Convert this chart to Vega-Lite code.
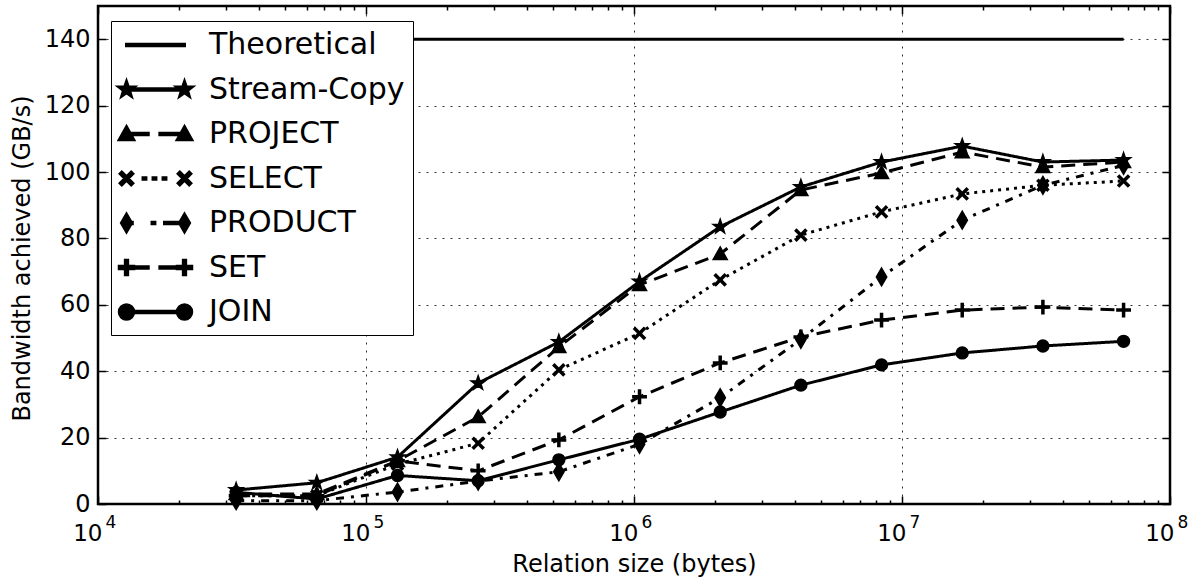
{
  "$schema": "https://vega.github.io/schema/vega-lite/v6.json",
  "width": 1072,
  "height": 498,
  "autosize": {"type": "none"},
  "padding": {"left": 98, "top": 6, "right": 20, "bottom": 73},
  "background": "white",
  "config": {
    "view": {"stroke": "black", "strokeWidth": 2.5},
    "font": "DejaVu Sans",
    "axis": {
      "labelColor": "black",
      "tickColor": "black",
      "titleColor": "black",
      "labelFont": "DejaVu Sans",
      "titleFont": "DejaVu Sans",
      "titleFontWeight": "normal",
      "tickWidth": 1.5,
      "labelFlush": false,
      "labelOverlap": false,
      "labelBound": false
    }
  },
  "data": {
    "values": [
      {"series": "Theoretical", "size": 32768, "bw": 140},
      {"series": "Theoretical", "size": 67108864, "bw": 140},
      {"series": "Stream-Copy", "size": 32768, "bw": 4.2},
      {"series": "Stream-Copy", "size": 65536, "bw": 6.4},
      {"series": "Stream-Copy", "size": 131072, "bw": 14.1},
      {"series": "Stream-Copy", "size": 262144, "bw": 36.4},
      {"series": "Stream-Copy", "size": 524288, "bw": 48.8},
      {"series": "Stream-Copy", "size": 1048576, "bw": 67},
      {"series": "Stream-Copy", "size": 2097152, "bw": 83.5},
      {"series": "Stream-Copy", "size": 4194304, "bw": 95.5},
      {"series": "Stream-Copy", "size": 8388608, "bw": 103},
      {"series": "Stream-Copy", "size": 16777216, "bw": 107.8},
      {"series": "Stream-Copy", "size": 33554432, "bw": 103},
      {"series": "Stream-Copy", "size": 67108864, "bw": 103.6},
      {"series": "PROJECT", "size": 32768, "bw": 3},
      {"series": "PROJECT", "size": 65536, "bw": 3},
      {"series": "PROJECT", "size": 131072, "bw": 13},
      {"series": "PROJECT", "size": 262144, "bw": 26.2},
      {"series": "PROJECT", "size": 524288, "bw": 47.3},
      {"series": "PROJECT", "size": 1048576, "bw": 66},
      {"series": "PROJECT", "size": 2097152, "bw": 75.3},
      {"series": "PROJECT", "size": 4194304, "bw": 94.6},
      {"series": "PROJECT", "size": 8388608, "bw": 99.7},
      {"series": "PROJECT", "size": 16777216, "bw": 106},
      {"series": "PROJECT", "size": 33554432, "bw": 101.5},
      {"series": "PROJECT", "size": 67108864, "bw": 103},
      {"series": "SELECT", "size": 32768, "bw": 2.5},
      {"series": "SELECT", "size": 65536, "bw": 2.5},
      {"series": "SELECT", "size": 131072, "bw": 12},
      {"series": "SELECT", "size": 262144, "bw": 18.3},
      {"series": "SELECT", "size": 524288, "bw": 40.4},
      {"series": "SELECT", "size": 1048576, "bw": 51.4},
      {"series": "SELECT", "size": 2097152, "bw": 67.5},
      {"series": "SELECT", "size": 4194304, "bw": 81},
      {"series": "SELECT", "size": 8388608, "bw": 88},
      {"series": "SELECT", "size": 16777216, "bw": 93.4},
      {"series": "SELECT", "size": 33554432, "bw": 96},
      {"series": "SELECT", "size": 67108864, "bw": 97.3},
      {"series": "PRODUCT", "size": 32768, "bw": 1},
      {"series": "PRODUCT", "size": 65536, "bw": 1},
      {"series": "PRODUCT", "size": 131072, "bw": 3.6},
      {"series": "PRODUCT", "size": 262144, "bw": 6.9},
      {"series": "PRODUCT", "size": 524288, "bw": 9.7},
      {"series": "PRODUCT", "size": 1048576, "bw": 18},
      {"series": "PRODUCT", "size": 2097152, "bw": 32},
      {"series": "PRODUCT", "size": 4194304, "bw": 49.6},
      {"series": "PRODUCT", "size": 8388608, "bw": 68.4},
      {"series": "PRODUCT", "size": 16777216, "bw": 85.5},
      {"series": "PRODUCT", "size": 33554432, "bw": 96},
      {"series": "PRODUCT", "size": 67108864, "bw": 102},
      {"series": "SET", "size": 32768, "bw": 2.5},
      {"series": "SET", "size": 65536, "bw": 2.5},
      {"series": "SET", "size": 131072, "bw": 13},
      {"series": "SET", "size": 262144, "bw": 10},
      {"series": "SET", "size": 524288, "bw": 19.3},
      {"series": "SET", "size": 1048576, "bw": 32.3},
      {"series": "SET", "size": 2097152, "bw": 42.5},
      {"series": "SET", "size": 4194304, "bw": 50.3},
      {"series": "SET", "size": 8388608, "bw": 55.4},
      {"series": "SET", "size": 16777216, "bw": 58.4},
      {"series": "SET", "size": 33554432, "bw": 59.3},
      {"series": "SET", "size": 67108864, "bw": 58.4},
      {"series": "JOIN", "size": 32768, "bw": 3.5},
      {"series": "JOIN", "size": 65536, "bw": 1.5},
      {"series": "JOIN", "size": 131072, "bw": 8.6},
      {"series": "JOIN", "size": 262144, "bw": 7},
      {"series": "JOIN", "size": 524288, "bw": 13.3},
      {"series": "JOIN", "size": 1048576, "bw": 19.5},
      {"series": "JOIN", "size": 2097152, "bw": 27.7},
      {"series": "JOIN", "size": 4194304, "bw": 35.8},
      {"series": "JOIN", "size": 8388608, "bw": 41.9},
      {"series": "JOIN", "size": 16777216, "bw": 45.5},
      {"series": "JOIN", "size": 33554432, "bw": 47.6},
      {"series": "JOIN", "size": 67108864, "bw": 49}
    ]
  },
  "layer": [
    {
      "transform": [{"filter": "datum.series === 'Theoretical'"}],
      "mark": {"type": "line", "color": "black", "strokeWidth": 3},
      "encoding": {
        "x": {
          "field": "size", "type": "quantitative",
          "scale": {"type": "log", "domain": [10000, 100000000], "nice": false},
          "axis": {
            "orient": "bottom",
            "values": [10000, 100000, 1000000, 10000000, 100000000],
            "labelExpr": "'10'",
            "labelAlign": "right",
            "labelOffset": 4,
            "labelBaseline": "alphabetic",
            "labelPadding": 44,
            "labelFontSize": 23,
            "tickSize": -8,
            "domain": false,
            "grid": true,
            "gridColor": "black",
            "gridDash": [2, 6],
            "gridWidth": 1,
            "gridOpacity": 0.8,
            "title": "Relation size (bytes)",
            "titleFontSize": 24,
            "titleY": 67,
            "titleBaseline": "alphabetic"
          }
        },
        "y": {
          "field": "bw", "type": "quantitative",
          "scale": {"domain": [0, 150], "nice": false, "zero": false},
          "axis": {
            "orient": "left",
            "values": [0, 20, 40, 60, 80, 100, 120, 140],
            "labelFontSize": 24,
            "labelPadding": 16,
            "tickSize": -8,
            "domain": false,
            "grid": true,
            "gridColor": "black",
            "gridDash": [2, 6],
            "gridWidth": 1,
            "gridOpacity": 0.8,
            "title": "Bandwidth achieved (GB/s)",
            "titleFontSize": 24,
            "titleAngle": -90,
            "titleX": -76,
            "titleY": 252,
            "titleAlign": "center",
            "titleBaseline": "middle"
          }
        },
        "opacity": {
          "field": "series", "type": "nominal",
          "scale": {
            "domain": ["Theoretical", "Stream-Copy", "PROJECT", "SELECT", "PRODUCT", "SET", "JOIN"],
            "range": [1, 1, 1, 1, 1, 1, 1]
          },
          "legend": {
            "title": null,
            "orient": "none",
            "legendX": 13,
            "legendY": 15,
            "fillColor": "white",
            "strokeColor": "black",
            "padding": 8,
            "cornerRadius": 0,
            "labelFont": "DejaVu Sans",
            "labelFontSize": 30,
            "labelColor": "black",
            "labelLimit": 400,
            "symbolSize": 841,
            "symbolOffset": 20.5,
            "labelOffset": 37.5,
            "rowPadding": 13.5,
            "symbolFillColor": "black",
            "symbolStrokeColor": "black",
            "symbolStrokeWidth": 3,
            "symbolOpacity": 1,
            "symbolType": {"expr": "datum.value === 'Stream-Copy' ? 'M-2,-0.05L2,-0.05L2,0.05L-2,0.05ZM-2,-0.55L-1.871,-0.178L-1.477,-0.17L-1.791,0.068L-1.677,0.445L-2,0.22L-2.323,0.445L-2.209,0.068L-2.523,-0.17L-2.129,-0.178ZM2,-0.55L2.129,-0.178L2.523,-0.17L2.209,0.068L2.323,0.445L2,0.22L1.677,0.445L1.791,0.068L1.477,-0.17L1.871,-0.178Z' : datum.value === 'PROJECT' ? 'M-2,-0.05L-0.5,-0.05L-0.5,0.05L-2,0.05ZM0.3,-0.05L2,-0.05L2,0.05L0.3,0.05ZM-2,-0.5L-1.5,0.4L-2.5,0.4ZM2,-0.5L2.5,0.4L1.5,0.4Z' : datum.value === 'SELECT' ? 'M-0.86,-0.05L-0.66,-0.05L-0.66,0.05L-0.86,0.05ZM-0.17,-0.05L0.03,-0.05L0.03,0.05L-0.17,0.05ZM0.52,-0.05L0.72,-0.05L0.72,0.05L0.52,0.05ZM-2.323,-0.437L-1.563,0.323L-1.677,0.437L-2.437,-0.323ZM-2.323,0.437L-2.437,0.323L-1.677,-0.437L-1.563,-0.323ZM1.677,-0.437L2.437,0.323L2.323,0.437L1.563,-0.323ZM1.677,0.437L1.563,0.323L2.323,-0.437L2.437,-0.323Z' : datum.value === 'PRODUCT' ? 'M-2,-0.05L-1.6,-0.05L-1.6,0.05L-2,0.05ZM-0.24,-0.05L-0.04,-0.05L-0.04,0.05L-0.24,0.05ZM0.62,-0.05L2,-0.05L2,0.05L0.62,0.05ZM-2,-0.6L-1.65,0L-2,0.6L-2.35,0ZM2,-0.6L2.35,0L2,0.6L1.65,0Z' : datum.value === 'SET' ? 'M-2,-0.05L-0.5,-0.05L-0.5,0.05L-2,0.05ZM0.3,-0.05L2,-0.05L2,0.05L0.3,0.05ZM-2.5,-0.08L-1.5,-0.08L-1.5,0.08L-2.5,0.08ZM-2.08,-0.5L-1.92,-0.5L-1.92,0.5L-2.08,0.5ZM1.5,-0.08L2.5,-0.08L2.5,0.08L1.5,0.08ZM1.92,-0.5L2.08,-0.5L2.08,0.5L1.92,0.5Z' : datum.value === 'JOIN' ? 'M-1.5,-0.05L1.5,-0.05L1.5,0.05L-1.5,0.05ZM-2.5,0A0.5,0.5 0 1,0 -1.5,0A0.5,0.5 0 1,0 -2.5,0ZM1.5,0A0.5,0.5 0 1,0 2.5,0A0.5,0.5 0 1,0 1.5,0Z' : 'M-2,-0.05L2,-0.05L2,0.05L-2,0.05Z'"}
          }
        }
      }
    },
    {
      "transform": [{"filter": "datum.series !== 'Theoretical'"}],
      "mark": {"type": "line", "color": "black", "strokeWidth": 3},
      "encoding": {
        "x": {
          "field": "size", "type": "quantitative",
          "axis": {
            "orient": "top",
            "values": [10000, 100000, 1000000, 10000000, 100000000],
            "labels": false,
            "tickSize": -8,
            "domain": false,
            "grid": false,
            "title": null
          }
        },
        "y": {
          "field": "bw", "type": "quantitative",
          "axis": {
            "orient": "right",
            "values": [0, 20, 40, 60, 80, 100, 120, 140],
            "labels": false,
            "tickSize": -8,
            "domain": false,
            "grid": false,
            "title": null
          }
        },
        "strokeDash": {
          "field": "series", "type": "nominal",
          "scale": {
            "domain": ["Stream-Copy", "PROJECT", "SELECT", "PRODUCT", "SET", "JOIN"],
            "range": [[1, 0], [14, 8], [3, 5], [8, 7, 3, 7], [14, 8], [1, 0]]
          },
          "legend": null
        }
      }
    },
    {
      "transform": [{"filter": "indexof(['Stream-Copy','PROJECT','PRODUCT','JOIN'], datum.series) >= 0"}],
      "mark": {"type": "point", "filled": true, "fill": "black", "stroke": "black", "strokeWidth": 1.5, "opacity": 1, "size": 220},
      "encoding": {
        "x": {
          "field": "size", "type": "quantitative",
          "axis": {
            "orient": "bottom",
            "values": [20000, 30000, 40000, 50000, 60000, 70000, 80000, 90000, 100000, 200000, 300000, 400000, 500000, 600000, 700000, 800000, 900000, 1000000, 2000000, 3000000, 4000000, 5000000, 6000000, 7000000, 8000000, 9000000, 10000000, 20000000, 30000000, 40000000, 50000000, 60000000, 70000000, 80000000, 90000000, 10000, 100000000],
            "labelExpr": "indexof([10000,100000,1000000,10000000,100000000], datum.value) >= 0 ? '' + round(log(datum.value)/LN10) : ''",
            "labelAlign": "left",
            "labelOffset": 7,
            "labelBaseline": "alphabetic",
            "labelPadding": 27,
            "labelFontSize": 17,
            "tickSize": -4,
            "tickOpacity": {"condition": {"test": "indexof([10000,100000,1000000,10000000,100000000], datum.value) >= 0", "value": 0}, "value": 1},
            "domain": false,
            "grid": false,
            "title": null
          }
        },
        "y": {"field": "bw", "type": "quantitative", "axis": null},
        "shape": {
          "field": "series", "type": "nominal",
          "scale": {
            "domain": ["Stream-Copy", "PROJECT", "SELECT", "PRODUCT", "SET", "JOIN"],
            "range": [
              "M0,-1L0.235,-0.324L0.951,-0.309L0.38,0.124L0.588,0.809L0,0.4L-0.588,0.809L-0.38,0.124L-0.951,-0.309L-0.235,-0.324Z",
              "M0,-0.95L0.95,0.75L-0.95,0.75Z",
              "M-0.75,-0.75L0.75,0.75M-0.75,0.75L0.75,-0.75",
              "M0,-1.2L0.7,0L0,1.2L-0.7,0Z",
              "M-1,0L1,0M0,-1L0,1",
              "M-0.8,0A0.8,0.8 0 1,0 0.8,0A0.8,0.8 0 1,0 -0.8,0Z"
            ]
          },
          "legend": null
        }
      }
    },
    {
      "transform": [{"filter": "indexof(['SELECT','SET'], datum.series) >= 0"}],
      "mark": {"type": "point", "filled": false, "stroke": "black", "strokeWidth": 3.5, "opacity": 1, "size": 220},
      "encoding": {
        "x": {
          "field": "size", "type": "quantitative",
          "axis": {
            "orient": "top",
            "values": [20000, 30000, 40000, 50000, 60000, 70000, 80000, 90000, 200000, 300000, 400000, 500000, 600000, 700000, 800000, 900000, 2000000, 3000000, 4000000, 5000000, 6000000, 7000000, 8000000, 9000000, 20000000, 30000000, 40000000, 50000000, 60000000, 70000000, 80000000, 90000000],
            "labels": false,
            "tickSize": -4,
            "domain": false,
            "grid": false,
            "title": null
          }
        },
        "y": {"field": "bw", "type": "quantitative", "axis": null},
        "shape": {"field": "series", "type": "nominal", "legend": null}
      }
    }
  ],
  "resolve": {"axis": {"x": "independent", "y": "independent"}}
}
